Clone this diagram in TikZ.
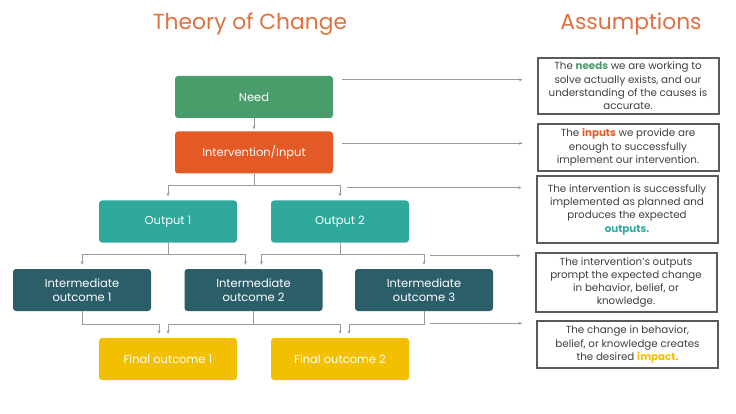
\documentclass[tikz,border=0pt]{standalone}
\usepackage{fontspec}
\setmainfont{Poppins}
\usepackage{tikz}
\usetikzlibrary{arrows.meta, positioning, calc}
\definecolor{titleorange}{HTML}{E2703F}
\definecolor{needgreen}{HTML}{4A9C6B}
\definecolor{inputorange}{HTML}{E35A27}
\definecolor{outteal}{HTML}{2FA99C}
\definecolor{midblue}{HTML}{2C5E6A}
\definecolor{finalyellow}{HTML}{F2C000}
\definecolor{linkgray}{HTML}{9A9A9A}
\definecolor{notegray}{HTML}{5A5A5A}
\definecolor{textgray}{HTML}{404040}

\begin{document}
\begin{tikzpicture}[x=1pt, y=-1pt,
    title/.style={text=titleorange, font=\fontsize{21.8}{25}\selectfont},
    box/.style={rounded corners=3pt, minimum width=138pt, minimum height=42pt, text=white, align=center, font=\fontsize{11.5}{14}\selectfont, inner sep=2pt},
    note/.style={draw=notegray, line width=2pt, fill=white, text=textgray, align=center, minimum width=181pt, font=\fontsize{10.3}{13.3}\selectfont, inner ysep=4.5pt},
    link/.style={draw=linkgray, line width=0.9pt},
    arr/.style={link, -{Stealth[length=3.5pt,width=3pt]}, shorten >=4pt}]
    \useasboundingbox (0,0) rectangle (736,414);
    \fill[white] (0,0) rectangle (736,414);

    % titles
    \node[title] (toc) at (250,24) {Theory of Change};
    \node[title] (asm) at (631,24) {Assumptions};

    % theory of change boxes
    \node[box, fill=needgreen, minimum width=158pt] (need) at (254,97) {Need};
    \node[box, fill=inputorange, minimum width=158pt] (input) at (254,152.5) {Intervention/Input};
    \node[box, fill=outteal] (out1) at (168,221.5) {Output 1};
    \node[box, fill=outteal] (out2) at (340,221.5) {Output 2};
    \node[box, fill=midblue] (mid1) at (82,290) {Intermediate\\outcome 1};
    \node[box, fill=midblue] (mid2) at (253.5,290) {Intermediate\\outcome 2};
    \node[box, fill=midblue] (mid3) at (424,290) {Intermediate\\outcome 3};
    \node[box, fill=finalyellow] (fin1) at (168,359) {Final outcome 1};
    \node[box, fill=finalyellow] (fin2) at (340,359) {Final outcome 2};

    % assumptions
    \node[note] (asm1) at (628,86) {The {\bfseries\color{needgreen}needs} we are working to\\solve actually exists, and our\\understanding of the causes is\\accurate.};
    \node[note] (asm2) at (628,147.5) {The {\bfseries\color{inputorange}inputs} we provide are\\enough to successfully\\implement our intervention.};
    \node[note, minimum height=67pt] (asm3) at (627,209.5) {The intervention is successfully\\implemented as planned and\\produces the expected\\{\bfseries\color{outteal}outputs.}};
    \node[note] (asm4) at (626,282.5) {The intervention’s outputs\\prompt the expected change\\in behavior, belief, or\\knowledge.};
    \node[note] (asm5) at (627.5,344.5) {The change in behavior,\\belief, or knowledge creates\\the desired {\bfseries\color{finalyellow}impact.}};

    % tree connectors
    \draw[arr, shorten >=2pt] (need) -- (input);
    \draw[link] (input.south) -- ++(0,12) coordinate (fork1);
    \draw[arr] (fork1) -| (out1.north);
    \draw[arr] (fork1) -| (out2.north);
    \draw[link] (out1.south) -- ++(0,12) coordinate (fork2);
    \draw[arr] (fork2) -| (mid1.north);
    \draw[arr] (fork2) -| ($(mid2.north)+(-8,0)$);
    \draw[link] (out2.south) -- ++(0,12) coordinate (fork3);
    \draw[arr] (fork3) -| ($(mid2.north)+(8,0)$);
    \draw[arr] (fork3) -| (mid3.north);
    \draw[arr] (mid1.south) -- ++(0,13) -| ($(fin1.north)+(-9,0)$);
    \draw[link] (mid2.south) -- ++(0,13) coordinate (fork5);
    \draw[arr] (fork5) -| (fin1.north);
    \draw[arr] (fork5) -| (fin2.north);
    \draw[arr] (mid3.south) -- ++(0,13) -| ($(fin2.north)+(9,0)$);

    % links to the assumptions
    \coordinate (a1) at ($(need.north east)+(9,4)$);
    \coordinate (a2) at ($(input.north east)+(9,12)$);
    \coordinate (a3) at ($(fork1 -| out2.north)+(7,2)$);
    \coordinate (a4) at ($(fork3 -| mid3.north)+(6,1)$);
    \coordinate (a5) at ($(mid3.south)+(6,12)$);
    \draw[arr, shorten >=14pt] (a1) -- (a1 -| asm1.west);
    \draw[arr, shorten >=14pt] (a2) -- (a2 -| asm2.west);
    \draw[arr, shorten >=14pt] (a3) -- (a3 -| asm3.west);
    \draw[arr, shorten >=14pt] (a4) -- (a4 -| asm4.west);
    \draw[arr, shorten >=14pt] (a5) -- (a5 -| asm5.west);
\end{tikzpicture}
\end{document}
